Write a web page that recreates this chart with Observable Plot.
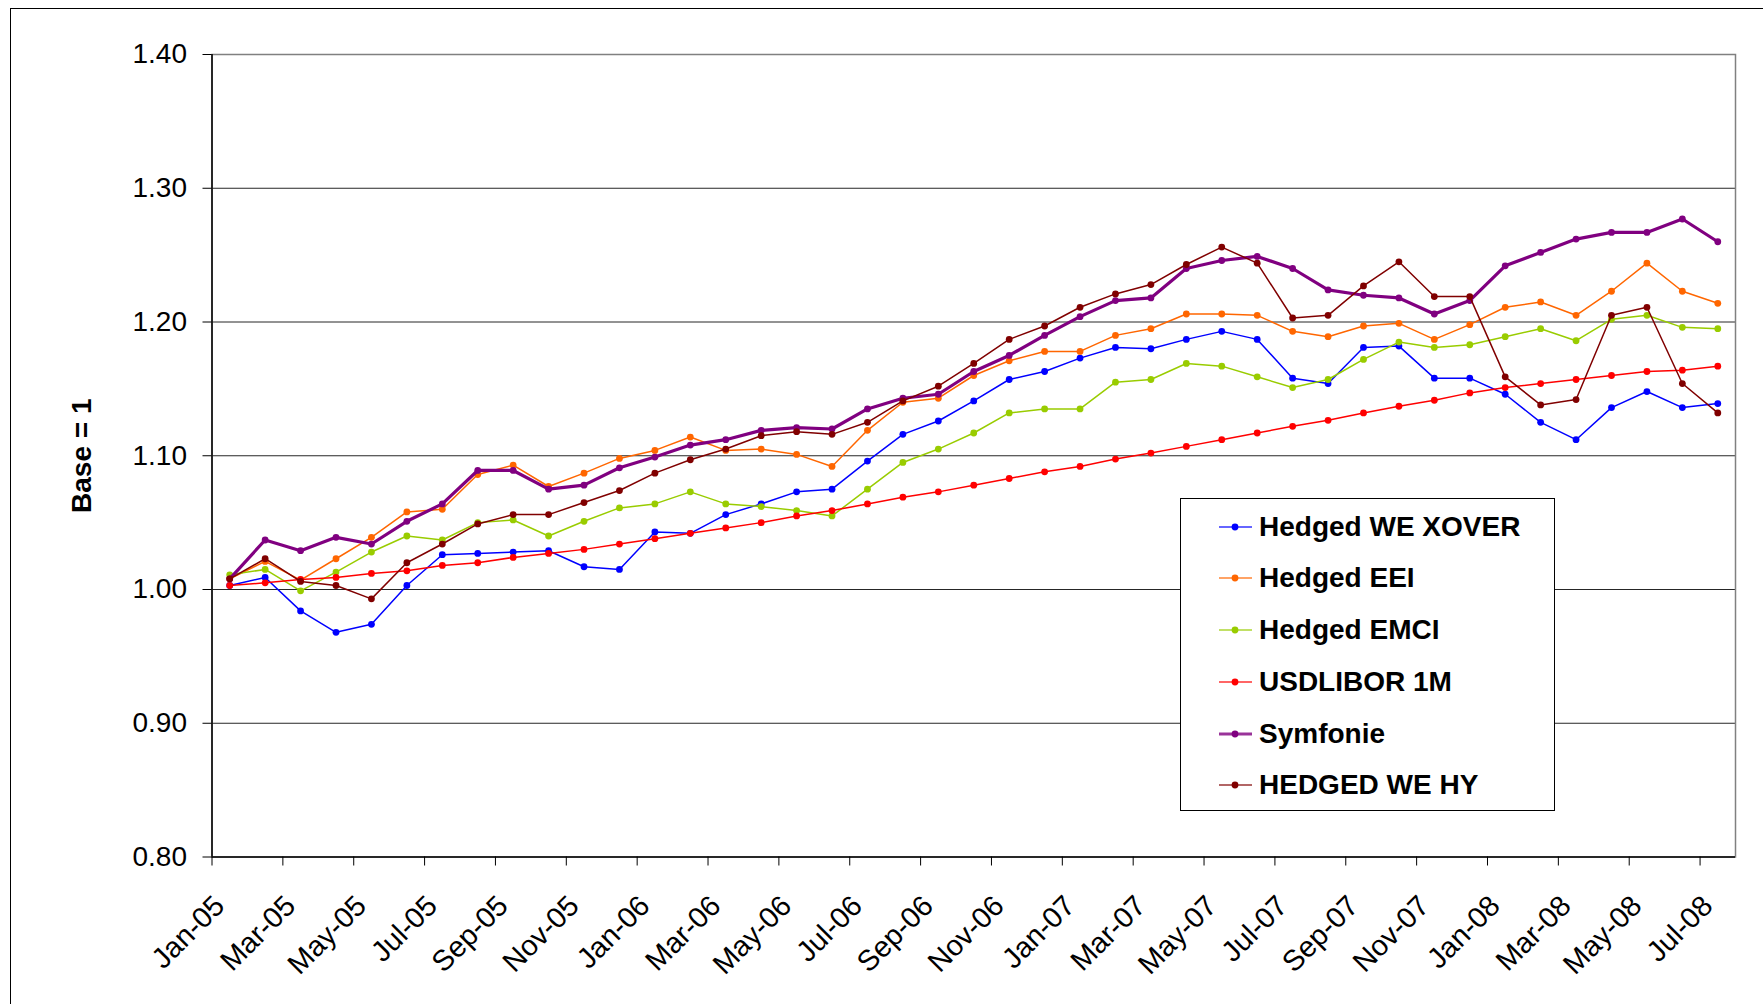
<!DOCTYPE html>
<html>
<head>
<meta charset="utf-8">
<script src="https://cdn.jsdelivr.net/npm/d3@7"></script>
<script src="https://cdn.jsdelivr.net/npm/@observablehq/plot@0.6"></script>
<style>
html, body { margin: 0; padding: 0; background: #fff; overflow: hidden; width: 1763px; height: 1004px; }
#wrap { position: relative; width: 1763px; height: 1004px; }
#chart { position: absolute; left: 0; top: 0; }
#frame { position: absolute; left: 10px; top: 8px; width: 1800px; height: 1100px; border: 1.5px solid #000; box-sizing: border-box; pointer-events: none; }
#legend { position: absolute; left: 1180px; top: 498px; width: 375px; height: 313px; border: 1.5px solid #000; box-sizing: border-box; background: #fff;
  font-family: "Liberation Sans", Arial, sans-serif; font-weight: bold; font-size: 28px; color: #000; }
#legend .row { position: absolute; left: 0; height: 40px; display: flex; align-items: center; white-space: nowrap; }
#legend svg { display: block; }
g[aria-label="y-axis label"] text { font-weight: bold; }
</style>
</head>
<body>
<div id="wrap">
  <div id="chart"></div>
  <div id="frame"></div>
  <div id="legend"></div>
</div>
<script>
// Category (month) labels
const months = ["Jan-05","Feb-05","Mar-05","Apr-05","May-05","Jun-05","Jul-05","Aug-05","Sep-05","Oct-05","Nov-05","Dec-05",
  "Jan-06","Feb-06","Mar-06","Apr-06","May-06","Jun-06","Jul-06","Aug-06","Sep-06","Oct-06","Nov-06","Dec-06",
  "Jan-07","Feb-07","Mar-07","Apr-07","May-07","Jun-07","Jul-07","Aug-07","Sep-07","Oct-07","Nov-07","Dec-07",
  "Jan-08","Feb-08","Mar-08","Apr-08","May-08","Jun-08","Jul-08"];

// Series values
const xover = [1.003,1.009,0.984,0.968,0.974,1.003,1.026,1.027,1.028,1.029,1.017,1.015,
  1.043,1.042,1.056,1.064,1.073,1.075,1.096,1.116,1.126,1.141,1.157,1.163,
  1.173,1.181,1.180,1.187,1.193,1.187,1.158,1.154,1.181,1.182,1.158,1.158,
  1.146,1.125,1.112,1.136,1.148,1.136,1.139];
const eei = [1.008,1.021,1.007,1.023,1.039,1.058,1.060,1.086,1.093,1.077,1.087,1.098,
  1.104,1.114,1.104,1.105,1.101,1.092,1.119,1.140,1.143,1.160,1.171,1.178,
  1.178,1.190,1.195,1.206,1.206,1.205,1.193,1.189,1.197,1.199,1.187,1.198,
  1.211,1.215,1.205,1.223,1.244,1.223,1.214];
const emci = [1.011,1.015,0.999,1.013,1.028,1.040,1.037,1.050,1.052,1.040,1.051,1.061,
  1.064,1.073,1.064,1.062,1.059,1.055,1.075,1.095,1.105,1.117,1.132,1.135,
  1.135,1.155,1.157,1.169,1.167,1.159,1.151,1.157,1.172,1.185,1.181,1.183,
  1.189,1.195,1.186,1.202,1.205,1.196,1.195];
const libor = [1.003,1.005,1.0075,1.009,1.012,1.014,1.018,1.020,1.024,1.027,1.030,1.034,
  1.038,1.042,1.046,1.050,1.055,1.059,1.064,1.069,1.073,1.078,1.083,1.088,
  1.092,1.0975,1.102,1.107,1.112,1.117,1.122,1.1265,1.132,1.137,1.1415,1.147,
  1.151,1.154,1.157,1.160,1.163,1.164,1.167];
const symfonie = [1.008,1.037,1.029,1.039,1.034,1.051,1.064,1.089,1.089,1.075,1.078,1.091,
  1.099,1.108,1.112,1.119,1.121,1.120,1.135,1.143,1.146,1.163,1.175,1.190,
  1.204,1.216,1.218,1.240,1.246,1.249,1.240,1.224,1.220,1.218,1.206,1.216,
  1.242,1.252,1.262,1.267,1.267,1.277,1.260];
const weHy = [1.008,1.023,1.006,1.003,0.993,1.020,1.034,1.049,1.056,1.056,1.065,1.074,
  1.087,1.097,1.105,1.115,1.118,1.116,1.125,1.141,1.152,1.169,1.187,1.197,
  1.211,1.221,1.228,1.243,1.256,1.244,1.203,1.205,1.227,1.245,1.219,1.219,
  1.159,1.138,1.142,1.205,1.211,1.154,1.132];

const seriesNames = ["Hedged WE XOVER","Hedged EEI","Hedged EMCI","USDLIBOR 1M","Symfonie","HEDGED WE HY"];
const seriesColors = ["#0000FF","#FF6600","#99CC00","#FF0000","#800080","#800000"];
const seriesValues = [xover, eei, emci, libor, symfonie, weHy];
const yTicks = [0.80, 0.90, 1.00, 1.10, 1.20, 1.30, 1.40];

const rows = seriesNames.flatMap((name, s) => seriesValues[s].map((v, i) => ({name, i, month: months[i], v})));

const boundaryTicks = d3.range(0, months.length, 2).map(i => i - 0.5);
const labelTicks = d3.range(0, months.length, 2);

const seriesMarks = seriesNames.flatMap((name, s) => {
  const data = rows.filter(d => d.name === name);
  return [
    Plot.line(data, {x: "i", y: "v", stroke: seriesColors[s], strokeWidth: name === "Symfonie" ? 3.2 : 1.5}),
    Plot.dot(data, {x: "i", y: "v", r: 3.4, fill: seriesColors[s], stroke: "none"})
  ];
});

const chart = Plot.plot({
  width: 1763, height: 1004,
  marginLeft: 211.5, marginRight: 28, marginTop: 54, marginBottom: 147.5,
  style: {fontFamily: "Liberation Sans, Arial, sans-serif", fontSize: "28px", background: "transparent", color: "#000", overflow: "visible"},
  x: {type: "linear", domain: [-0.5, months.length - 0.5]},
  y: {domain: [0.8, 1.4]},
  marks: [
    Plot.gridY(yTicks.slice(1, -1), {stroke: "#000", strokeOpacity: 0.85, strokeWidth: 1}),
    Plot.frame({stroke: "#808080", strokeWidth: 1.5}),
    Plot.axisY(yTicks, {tickSize: 9, tickPadding: 16, tickFormat: d3.format(".2f"), label: "Base = 1", labelAnchor: "center", labelArrow: "none", labelOffset: 141}),
    Plot.axisX(boundaryTicks, {tickSize: 9, tickFormat: () => "", label: null}),
    Plot.axisX(labelTicks, {tickSize: 0, tickPadding: 44, dx: -10, tickRotate: -45, fontSize: 29, tickFormat: i => months[i], label: null}),
    Plot.ruleX([-0.5], {stroke: "#000", strokeWidth: 1.5}),
    Plot.ruleY([0.8], {stroke: "#000", strokeWidth: 1.5}),
    ...seriesMarks
  ]
});
document.getElementById("chart").appendChild(chart);

// Legend (inside the plot area, as in the reference)
const legend = document.getElementById("legend");
seriesNames.forEach((name, s) => {
  const row = document.createElement("div");
  row.className = "row";
  row.style.top = (7.7 + 51.7 * s) + "px";
  const w = name === "Symfonie" ? 3.2 : 1.5;
  row.innerHTML = `<svg width="78" height="40"><line x1="38" x2="71" y1="20" y2="20" stroke="${seriesColors[s]}" stroke-width="${w}" stroke-opacity="0.8"/><circle cx="54" cy="20" r="3.4" fill="${seriesColors[s]}"/></svg><span>${name}</span>`;
  legend.appendChild(row);
});
</script>
</body>
</html>
